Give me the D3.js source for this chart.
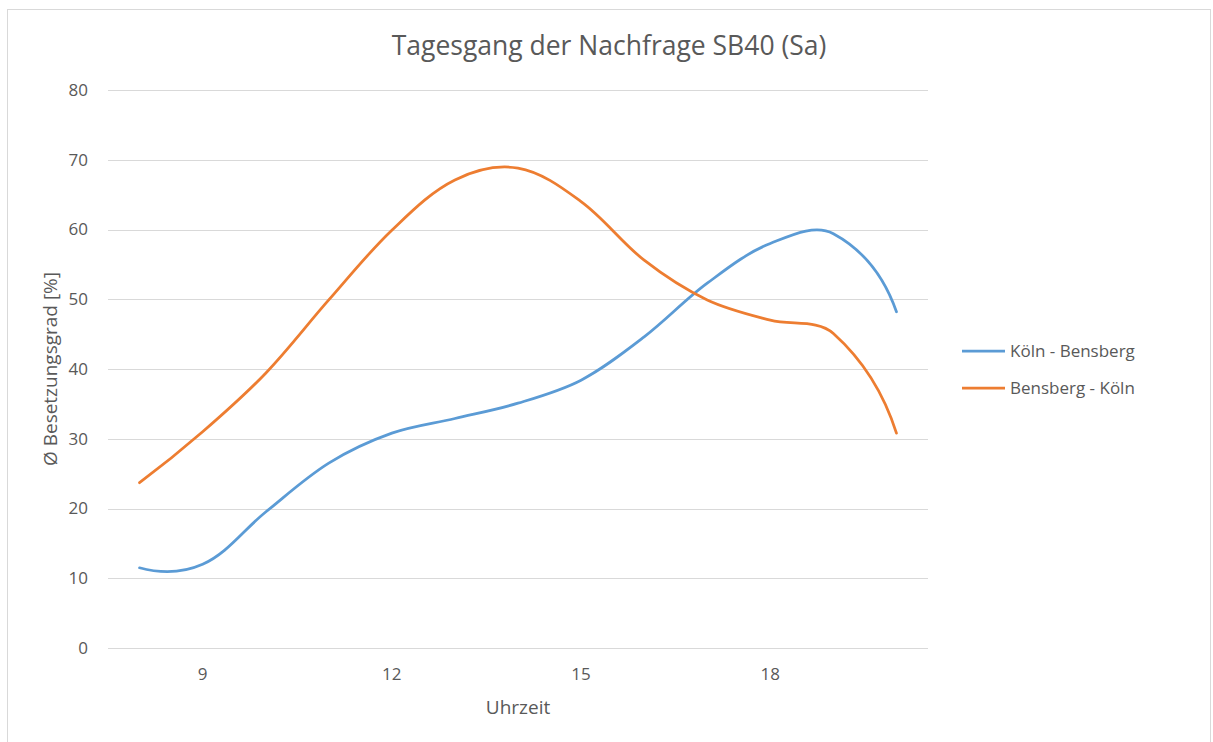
<!DOCTYPE html>
<html>
<head>
  <meta charset="utf-8">
  <script src="https://d3js.org/d3.v7.min.js"></script>
  <style>
    body { margin: 0; background: #fff; }
    text { font-family: "Open Sans", "Noto Sans", sans-serif; fill: #595959; }
  </style>
</head>
<body>
  <svg id="chart" width="1213" height="742"></svg>
  <script>
    // Daten
    const hours = [8, 9, 10, 11, 12, 13, 14, 15, 16, 17, 18, 19, 20];
    const koelnBensberg = [11.5, 12.0, 19.5, 26.5, 30.8, 32.9, 35.1, 38.4, 44.6, 52.3, 58.0, 59.4, 48.2];
    const bensbergKoeln = [23.7, 31.0, 39.4, 49.9, 59.9, 67.1, 68.8, 64.0, 55.6, 49.9, 47.0, 45.1, 30.8];
    const xTicks = [9, 12, 15, 18];
    const yTicks = [0, 10, 20, 30, 40, 50, 60, 70, 80];
    const seriesNames = ["Köln - Bensberg", "Bensberg - Köln"];
    const colors = ["#5B9BD5", "#ED7D31"];

    const svg = d3.select("#chart");

    // Rahmen
    svg.append("rect")
      .attr("x", 7.5).attr("y", 9.5)
      .attr("width", 1203).attr("height", 760)
      .attr("fill", "#fff").attr("stroke", "#d9d9d9");

    const plot = { left: 108, right: 928, top: 90, bottom: 648 };

    const x = d3.scaleLinear().domain([7.5, 20.5]).range([plot.left, plot.right]);
    const y = d3.scaleLinear().domain([0, 80]).range([plot.bottom, plot.top]);

    // Gitterlinien
    svg.append("g")
      .selectAll("line")
      .data(yTicks)
      .join("line")
      .attr("x1", plot.left).attr("x2", plot.right)
      .attr("y1", d => Math.round(y(d)) + 0.5).attr("y2", d => Math.round(y(d)) + 0.5)
      .attr("stroke", "#d9d9d9").attr("stroke-width", 1);

    // Y-Achse Beschriftung
    svg.append("g")
      .selectAll("text")
      .data(yTicks)
      .join("text")
      .attr("x", 88).attr("y", d => y(d))
      .attr("dy", "0.35em")
      .attr("text-anchor", "end")
      .attr("font-size", 17)
      .text(d => d);

    // X-Achse Beschriftung
    svg.append("g")
      .selectAll("text")
      .data(xTicks)
      .join("text")
      .attr("x", d => x(d)).attr("y", 674)
      .attr("dy", "0.35em")
      .attr("text-anchor", "middle")
      .attr("font-size", 17)
      .text(d => d);

    // Titel
    svg.append("text")
      .attr("x", 609).attr("y", 46)
      .attr("dy", "0.35em")
      .attr("text-anchor", "middle")
      .attr("font-size", 26.5)
      .text("Tagesgang der Nachfrage SB40 (Sa)");

    svg.append("text")
      .attr("x", 518).attr("y", 707)
      .attr("dy", "0.35em")
      .attr("text-anchor", "middle")
      .attr("font-size", 19)
      .text("Uhrzeit");

    svg.append("text")
      .attr("transform", "translate(50,369) rotate(-90)")
      .attr("dy", "0.35em")
      .attr("text-anchor", "middle")
      .attr("font-size", 19)
      .text("Ø Besetzungsgrad [%]");

    // Glättung wie in Excel (ungefähr): Tangente P[i-1]->P[i+1],
    // Henkellänge proportional zur jeweiligen Segmentlänge
    function excelSmooth(context) {
      let pts;
      return {
        lineStart() { pts = []; },
        point(px, py) { pts.push([px, py]); },
        lineEnd() {
          const n = pts.length;
          if (n < 3) {
            pts.forEach((p, i) => i ? context.lineTo(p[0], p[1]) : context.moveTo(p[0], p[1]));
            return;
          }
          const t = 1 / 3;
          const cin = [], cout = [];
          for (let i = 1; i < n - 1; i++) {
            const dx = pts[i + 1][0] - pts[i - 1][0], dy = pts[i + 1][1] - pts[i - 1][1];
            const len = Math.hypot(dx, dy);
            const ux = dx / len, uy = dy / len;
            const dPrev = Math.hypot(pts[i][0] - pts[i - 1][0], pts[i][1] - pts[i - 1][1]);
            const dNext = Math.hypot(pts[i + 1][0] - pts[i][0], pts[i + 1][1] - pts[i][1]);
            cin[i] = [pts[i][0] - ux * dPrev * t, pts[i][1] - uy * dPrev * t];
            cout[i] = [pts[i][0] + ux * dNext * t, pts[i][1] + uy * dNext * t];
          }
          // Endpunkte: quadratisches Segment
          const q0 = [pts[1][0] + 1.5 * (cin[1][0] - pts[1][0]), pts[1][1] + 1.5 * (cin[1][1] - pts[1][1])];
          cout[0] = [pts[0][0] + 2 / 3 * (q0[0] - pts[0][0]), pts[0][1] + 2 / 3 * (q0[1] - pts[0][1])];
          const m = n - 2;
          const q1 = [pts[m][0] + 1.5 * (cout[m][0] - pts[m][0]), pts[m][1] + 1.5 * (cout[m][1] - pts[m][1])];
          cin[n - 1] = [pts[n - 1][0] + 2 / 3 * (q1[0] - pts[n - 1][0]), pts[n - 1][1] + 2 / 3 * (q1[1] - pts[n - 1][1])];

          context.moveTo(pts[0][0], pts[0][1]);
          for (let i = 0; i < n - 1; i++) {
            context.bezierCurveTo(cout[i][0], cout[i][1], cin[i + 1][0], cin[i + 1][1], pts[i + 1][0], pts[i + 1][1]);
          }
        },
        areaStart() {}, areaEnd() {}
      };
    }

    const line = d3.line()
      .x((d, i) => x(hours[i]))
      .y(d => y(d))
      .curve(excelSmooth);

    [koelnBensberg, bensbergKoeln].forEach((vals, k) => {
      svg.append("path")
        .attr("d", line(vals))
        .attr("fill", "none")
        .attr("stroke", colors[k])
        .attr("stroke-width", 2.75)
        .attr("stroke-linecap", "round");
    });

    // Legende
    const legend = svg.append("g");
    seriesNames.forEach((name, k) => {
      const ly = 351 + k * 37;
      legend.append("line")
        .attr("x1", 962).attr("x2", 1005)
        .attr("y1", ly).attr("y2", ly)
        .attr("stroke", colors[k]).attr("stroke-width", 2.75);
      legend.append("text")
        .attr("x", 1010).attr("y", ly)
        .attr("dy", "0.35em")
        .attr("font-size", 17)
        .text(name);
    });
  </script>
</body>
</html>
